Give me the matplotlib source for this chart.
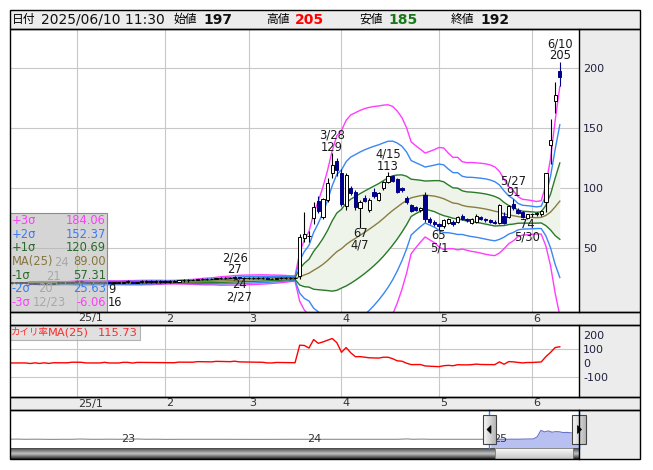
import numpy as np
import pandas as pd
import matplotlib
matplotlib.use('Agg')
import matplotlib.pyplot as plt
from matplotlib.patches import Rectangle, Polygon
from matplotlib import transforms

plt.rcParams['font.family'] = ['DejaVu Sans', 'Noto Sans CJK JP']
plt.rcParams['axes.unicode_minus'] = False

# ---------------- data ----------------
holidays = ['2024-12-31', '2025-01-01', '2025-01-02', '2025-01-03', '2025-01-13',
            '2025-02-11', '2025-02-24', '2025-03-20', '2025-04-29', '2025-05-05', '2025-05-06']
dates = pd.bdate_range('2024-12-11', '2025-06-10')
dates = dates[~dates.isin(pd.to_datetime(holidays))]

open_dec = [21, 21, 21, 21, 21, 20, 21, 20, 21, 20, 21, 21, 21, 21]
high_dec = [22, 22, 21, 22, 21, 21, 21, 21, 21, 21, 21, 22, 22, 22]
low_dec = [20, 21, 20, 20, 20, 20, 20, 20, 20, 20, 20, 21, 21, 21]
close_dec = [21, 21, 21, 21, 20, 21, 20, 21, 20, 21, 21, 21, 21, 22]

open_jan = [22, 22, 22, 21, 21, 21, 21, 22, 21, 21, 21, 22, 22, 21, 22, 22, 22, 22, 22]
high_jan = [23, 23, 22, 22, 22, 22, 22, 22, 22, 22, 22, 23, 22, 22, 23, 23, 23, 23, 23]
low_jan = [21, 21, 21, 20, 21, 21, 21, 21, 20, 21, 21, 21, 21, 21, 21, 21, 21, 21, 21]
close_jan = [22, 22, 21, 21, 21, 21, 22, 21, 21, 21, 22, 22, 21, 22, 22, 22, 22, 22, 22]

open_feb = [22, 22, 22, 22, 23, 23, 23, 23, 24, 24, 24, 24, 25, 25, 25, 25, 26, 25]
high_feb = [23, 23, 23, 23, 24, 24, 24, 24, 25, 25, 25, 25, 26, 26, 26, 27, 26, 26]
low_feb = [21, 21, 22, 22, 22, 22, 23, 23, 23, 23, 24, 24, 24, 24, 25, 25, 24, 24]
close_feb = [22, 22, 22, 23, 23, 23, 23, 24, 24, 24, 24, 25, 25, 25, 25, 26, 25, 25]

open_mar = [25, 25, 25, 25, 25, 24, 24, 25, 25, 25, 25, 27, 58, 60, 75, 89, 76, 90, 112, 122]
high_mar = [26, 26, 26, 26, 26, 25, 25, 26, 26, 26, 26, 62, 80, 64, 88, 93, 92, 108, 129, 125]
low_mar = [24, 24, 24, 24, 24, 24, 24, 24, 24, 24, 24, 24, 55, 55, 70, 79, 74, 88, 108, 110]
close_mar = [25, 25, 25, 25, 24, 24, 25, 25, 25, 25, 25, 59, 62, 60, 84, 81, 91, 104, 119, 115]

open_apr = [112, 85, 100, 97, 83, 92, 82, 97, 90, 100, 105, 110, 107, 100, 92, 86, 84, 82, 94, 74, 72]
high_apr = [116, 112, 102, 98, 90, 94, 92, 100, 97, 106, 113, 111, 108, 101, 93, 87, 85, 84, 97, 76, 73]
low_apr = [85, 82, 94, 82, 67, 88, 80, 92, 89, 98, 104, 105, 96, 97, 87, 80, 81, 80, 72, 70, 68]
close_apr = [87, 111, 96, 84, 88, 89, 90, 93, 96, 105, 110, 106, 97, 98, 88, 81, 82, 83, 74, 72, 70]

open_may = [70, 68, 71, 72, 72, 77, 74, 71, 72, 76, 74, 73, 72, 71, 77, 76, 87, 82, 80, 75]
high_may = [71, 74, 75, 73, 77, 78, 75, 75, 78, 77, 75, 74, 73, 87, 80, 86, 91, 83, 81, 78]
low_may = [65, 67, 70, 68, 71, 73, 72, 70, 71, 73, 72, 71, 70, 70, 70, 75, 82, 78, 75, 74]
close_may = [68, 73, 74, 70, 76, 74, 73, 74, 77, 74, 73, 72, 71, 86, 71, 85, 83, 79, 76, 78]

open_jun = [78, 78, 78, 88, 136, 172, 197]
high_jun = [79, 80, 82, 112, 157, 188, 205]
low_jun = [76, 77, 77, 80, 120, 162, 185]
close_jun = [78, 79, 81, 112, 140, 177, 192]

month_labels = ['25/1', '2', '3', '4', '5', '6']
high_marks = ['2025-02-26', '2025-03-28', '2025-04-15', '2025-05-27', '2025-06-10']
low_marks = ['2025-02-27', '2025-04-07', '2025-05-01', '2025-05-30']

legend_labels = ['+3σ', '+2σ', '+1σ', 'MA(25)', '-1σ', '-2σ', '-3σ']
legend_values = [184.06, 152.37, 120.69, 89.00, 57.31, 25.63, -6.06]
osc_value = 115.73

header_open, header_high, header_low, header_close = 197, 205, 185, 192

nav_year = [2022.37, 2022.40, 2022.45, 2022.50, 2022.55, 2022.60, 2022.65, 2022.70, 2022.74,
            2022.80, 2022.85, 2022.90, 2022.95, 2023.00, 2023.05, 2023.10, 2023.15, 2023.20,
            2023.30, 2023.50, 2023.70, 2023.90, 2024.10, 2024.30, 2024.45, 2024.50, 2024.53,
            2024.58, 2024.62, 2024.80, 2024.95, 2025.10, 2025.15, 2025.18, 2025.20, 2025.22,
            2025.24, 2025.26, 2025.28, 2025.30, 2025.32, 2025.34, 2025.36, 2025.38, 2025.41,
            2025.425]
nav_price = [22, 23, 21, 22, 21, 20, 21, 21, 24,
             21, 21, 22, 21, 22, 24, 21, 22, 20,
             21, 21, 20, 21, 21, 21, 21, 25, 21,
             23, 21, 21, 21, 22, 24, 25, 45, 110,
             95, 105, 92, 98, 96, 88, 90, 86, 85,
             85]
nav_window_start = 2024.945

# ---------------- derived ----------------
O = np.array(open_dec + open_jan + open_feb + open_mar + open_apr + open_may + open_jun, float)
Hh = np.array(high_dec + high_jan + high_feb + high_mar + high_apr + high_may + high_jun, float)
L = np.array(low_dec + low_jan + low_feb + low_mar + low_apr + low_may + low_jun, float)
C = np.array(close_dec + close_jan + close_feb + close_mar + close_apr + close_may + close_jun, float)
n = len(C)
x = np.arange(n)
s = pd.Series(C)
ma = s.rolling(25, min_periods=1).mean().values
sd = s.rolling(25, min_periods=1).std(ddof=0).fillna(0).values
dev = (C - ma) / ma * 100
month_idx = [i for i in range(1, n) if dates[i].month != dates[i - 1].month]

# ---------------- figure ----------------
W, H = 653, 470
fig = plt.figure(figsize=(W / 100, H / 100), dpi=100)
fig.patch.set_facecolor('white')


def px_axes(x0, y0, w, h, z=1):
    a = fig.add_axes([x0 / W, 1 - (y0 + h) / H, w / W, h / H], zorder=z)
    a.patch.set_alpha(0)
    for sp in a.spines.values():
        sp.set_visible(False)
    return a


GRAY = '#ececec'
GRID = '#c8c8c8'

# background
bg = fig.add_axes([0, 0, 1, 1], zorder=0)
bg.set_xlim(0, W)
bg.set_ylim(H, 0)
bg.axis('off')
for (rx, ry, rw, rh) in [(10, 10, 630, 19), (579, 29, 61, 283), (10, 312, 630, 13),
                         (579, 325, 61, 72), (10, 397, 630, 13), (579, 410, 61, 49)]:
    bg.add_patch(Rectangle((rx, ry), rw, rh, facecolor=GRAY, edgecolor='none'))

XL = (-0.366, 122.13)
# main chart
ax = px_axes(10, 29, 569, 283)
ax.set_xlim(*XL)
ax.set_ylim(-3.24, 232.2)
for m in month_idx:
    ax.axvline(m, color=GRID, lw=0.8, zorder=0)
for v in [50, 100, 150, 200]:
    ax.axhline(v, color=GRID, lw=0.8, zorder=0)
ax.fill_between(x, ma - sd, ma + sd, color='#eef4ea', zorder=1, lw=0)
band_cols = {3: '#ff3cff', 2: '#3a86f5', 1: '#2a7a2a'}
for k in [3, 2, 1]:
    ax.plot(x, ma + k * sd, color=band_cols[k], lw=1.0, zorder=2)
    ax.plot(x, ma - k * sd, color=band_cols[k], lw=1.0, zorder=2)
ax.plot(x, ma, color='#8a7d40', lw=1.0, zorder=2)

NAVY = '#00008b'
up = C >= O
ax.vlines(x, L, Hh, colors=np.where(up, 'black', NAVY), lw=0.8, zorder=3)
body_b = np.minimum(O, C)
body_h = np.maximum(np.abs(C - O), 0.35)
ax.bar(x, body_h, 0.7, bottom=body_b, color=np.where(up, 'white', NAVY),
       edgecolor=np.where(up, 'black', NAVY), lw=0.7, zorder=4)

ax.yaxis.tick_right()
ax.set_yticks([50, 100, 150, 200])
ax.tick_params(axis='y', length=0, pad=3, labelsize=8, labelcolor='#202040')
ax.set_xticks([])

ANN = '#1a1a1a'
for dstr in high_marks:
    i = int(np.where(dates == pd.Timestamp(dstr))[0][0])
    d = dates[i]
    ax.annotate(f'{int(Hh[i])}', (i, Hh[i]), xytext=(0, 1.8), textcoords='offset points',
                ha='center', va='baseline', fontsize=8.3, color=ANN, zorder=6)
    ax.annotate(f'{d.month}/{d.day}', (i, Hh[i]), xytext=(0, 10.4), textcoords='offset points',
                ha='center', va='baseline', fontsize=8.3, color=ANN, zorder=6)
for dstr in low_marks:
    i = int(np.where(dates == pd.Timestamp(dstr))[0][0])
    d = dates[i]
    ax.annotate(f'{int(L[i])}', (i, L[i]), xytext=(0, -6.6), textcoords='offset points',
                ha='center', va='baseline', fontsize=8.3, color=ANN, zorder=6)
    ax.annotate(f'{d.month}/{d.day}', (i, L[i]), xytext=(0, -15.2), textcoords='offset points',
                ha='center', va='baseline', fontsize=8.3, color=ANN, zorder=6)

# date strips
tr1 = transforms.blended_transform_factory(ax.transData, ax.transAxes)
for m, lab in zip(month_idx, month_labels):
    ax.text(m + 0.2, -6.5 / 283, lab, transform=tr1, ha='left', va='center',
            fontsize=8, color='#333333')

# oscillator
ax2 = px_axes(10, 325, 569, 72)
ax2.set_xlim(*XL)
ax2.set_ylim(-243, 271)
for m in month_idx:
    ax2.axvline(m, color=GRID, lw=0.8, zorder=0)
for v in [100, -100]:
    ax2.axhline(v, color=GRID, lw=0.8, zorder=0)
ax2.plot(x, dev, color='#ff0000', lw=1.0, zorder=2)
ax2.yaxis.tick_right()
ax2.set_yticks([200, 100, 0, -100])
ax2.tick_params(axis='y', length=0, pad=3, labelsize=8, labelcolor='#202040')
ax2.set_xticks([])
tr2 = transforms.blended_transform_factory(ax2.transData, ax2.transAxes)
for m, lab in zip(month_idx, month_labels):
    ax2.text(m + 0.2, -6.5 / 72, lab, transform=tr2, ha='left', va='center',
             fontsize=8, color='#333333')

# navigator
ax3 = px_axes(10, 410, 569, 38)
ax3.set_xlim(2022.366, 2025.425)
ax3.set_ylim(-66, 314)
nx = np.array(nav_year)
ny = np.array(nav_price, float)
sel = nx >= nav_window_start
first_sel = int(np.argmax(sel))
pre = np.arange(len(nx)) <= first_sel
ax3.fill_between(nx[sel], -66, ny[sel], color='#b8c0f2', lw=0, zorder=1)
ax3.plot(nx[pre], ny[pre], color='#8c8c8c', lw=0.8, zorder=2)
ax3.plot(nx[sel], ny[sel], color='#6a72c8', lw=0.8, zorder=2)
for yr, lab in [(2023.0, '23'), (2024.0, '24'), (2025.0, '25')]:
    ax3.text(yr, 21, lab, ha='center', va='center', fontsize=8, color='#333333', zorder=3)
ax3.set_xticks([])
ax3.set_yticks([])

# ---------------- overlay ----------------
ov = fig.add_axes([0, 0, 1, 1], zorder=10)
ov.patch.set_alpha(0)
ov.axis('off')

# faded labels under legend
for tx, ty, t, col, ha in [(61, 262, '24', '#9a9a9a', 'center'), (53, 276, '21', '#9a9a9a', 'center'),
                           (45, 289, '20', '#9a9a9a', 'center'), (49, 302, '12/23', '#9a9a9a', 'center'),
                           (108.5, 289.5, '9', '#1a1a1a', 'left'), (108, 302, '16', '#1a1a1a', 'left')]:
    ov.text(tx, ty, t, ha=ha, va='center', fontsize=8.3, color=col, zorder=1)

ov.add_patch(Rectangle((10, 213), 97, 99, facecolor='#b4b4b4', alpha=0.55, edgecolor='none', zorder=2))
ov.add_patch(Rectangle((10, 213), 97, 99, facecolor='none', edgecolor='#8c8c8c', lw=0.8, zorder=2))
leg_cols = ['#ff3cff', '#3a7af5', '#2a6a2a', '#85763f', '#2a6a2a', '#3a7af5', '#ff3cff']
for k, (lab, val, col) in enumerate(zip(legend_labels, legend_values, leg_cols)):
    yy = 220.5 + 13.7 * k
    ov.text(11.5, yy, lab, ha='left', va='center', fontsize=8.3, color=col, zorder=3)
    ov.text(106, yy, f'{val:.2f}', ha='right', va='center', fontsize=8.3, color=col, zorder=3)

# oscillator label
ov.add_patch(Rectangle((10, 325), 130, 15, facecolor='#d4d4d4', alpha=0.7, edgecolor='#999999', lw=0.8, zorder=2))
ov.text(10.5, 332.5, 'カイリ率', ha='left', va='center', fontsize=6.8, color='#ff2a2a', zorder=3)
ov.text(48, 332.5, 'MA(25)', ha='left', va='center', fontsize=8.2, color='#ff2a2a', zorder=3)
ov.text(138, 332.5, f'{osc_value:.2f}', ha='right', va='center', fontsize=8.2, color='#ff2a2a', zorder=3)

# header
hy = 19.5
ov.text(12, hy, '日付', ha='left', va='center', fontsize=8.5, color='black')
ov.text(41, hy, f"{dates[-1].strftime('%Y/%m/%d')} 11:30", ha='left', va='center', fontsize=10, color='#111111')
for lx, lab, vx, val, col in [(174, '始値', 203, header_open, '#111111'),
                              (266, '高値', 295, header_high, '#ff0000'),
                              (359, '安値', 388, header_low, '#1a7a1a'),
                              (451, '終値', 480, header_close, '#111111')]:
    ov.text(lx, hy, lab, ha='left', va='center', fontsize=8.5, color='black')
    ov.text(vx, hy, f'{val}', ha='left', va='center', fontsize=10, color=col, fontweight='bold')

# scrollbar
grad = np.concatenate([np.linspace(0.30, 0.72, 6), np.linspace(0.72, 0.18, 6)])
ov.imshow(np.repeat(grad[:, None], 2, axis=1), cmap='gray', vmin=0, vmax=1,
          extent=(10, 579, 459, 448), aspect='auto', zorder=2, interpolation='bilinear')
grad2 = np.linspace(0.98, 0.78, 12)
ov.imshow(np.repeat(grad2[:, None], 2, axis=1), cmap='gray', vmin=0, vmax=1,
          extent=(495, 573, 459, 448), aspect='auto', zorder=3, interpolation='bilinear')
ov.add_patch(Rectangle((495, 448), 78, 11, facecolor='none', edgecolor='#777777', lw=0.6, zorder=4))

# window lines and handles
for bx in [489, 579]:
    ov.plot([bx, bx], [410, 448], color='#1e90ff', lw=1.0, zorder=4)
hgrad = np.linspace(0.97, 0.72, 10)
for hx0, hw, direction in [(483, 13, -1), (572, 14, 1)]:
    ov.imshow(np.repeat(hgrad[None, :], 2, axis=0), cmap='gray', vmin=0, vmax=1,
              extent=(hx0, hx0 + hw, 444, 415), aspect='auto', zorder=5, interpolation='bilinear')
    ov.add_patch(Rectangle((hx0, 415), hw, 29, facecolor='none', edgecolor='#444444', lw=0.8, zorder=6))
    cx = hx0 + hw / 2
    if direction < 0:
        tri = [(cx + 1.5, 425.5), (cx + 1.5, 433.5), (cx - 2.5, 429.5)]
    else:
        tri = [(cx - 1.5, 425.5), (cx - 1.5, 433.5), (cx + 2.5, 429.5)]
    ov.add_patch(Polygon(tri, closed=True, facecolor='black', edgecolor='black', lw=0.5, zorder=7))

# borders
for (rx, ry, rw, rh) in [(10, 10, 630, 19), (10, 29, 630, 283), (10, 312, 630, 13),
                         (10, 325, 630, 72), (10, 397, 630, 13), (10, 410, 630, 49)]:
    ov.add_patch(Rectangle((rx, ry), rw, rh, facecolor='none', edgecolor='black', lw=1.0, zorder=8))
for (y0, y1) in [(29, 312), (325, 397), (410, 459)]:
    ov.plot([579, 579], [y0, y1], color='black', lw=1.0, zorder=8)

ov.set_xlim(0, W)
ov.set_ylim(H, 0)

fig.savefig('out.png', dpi=100)
